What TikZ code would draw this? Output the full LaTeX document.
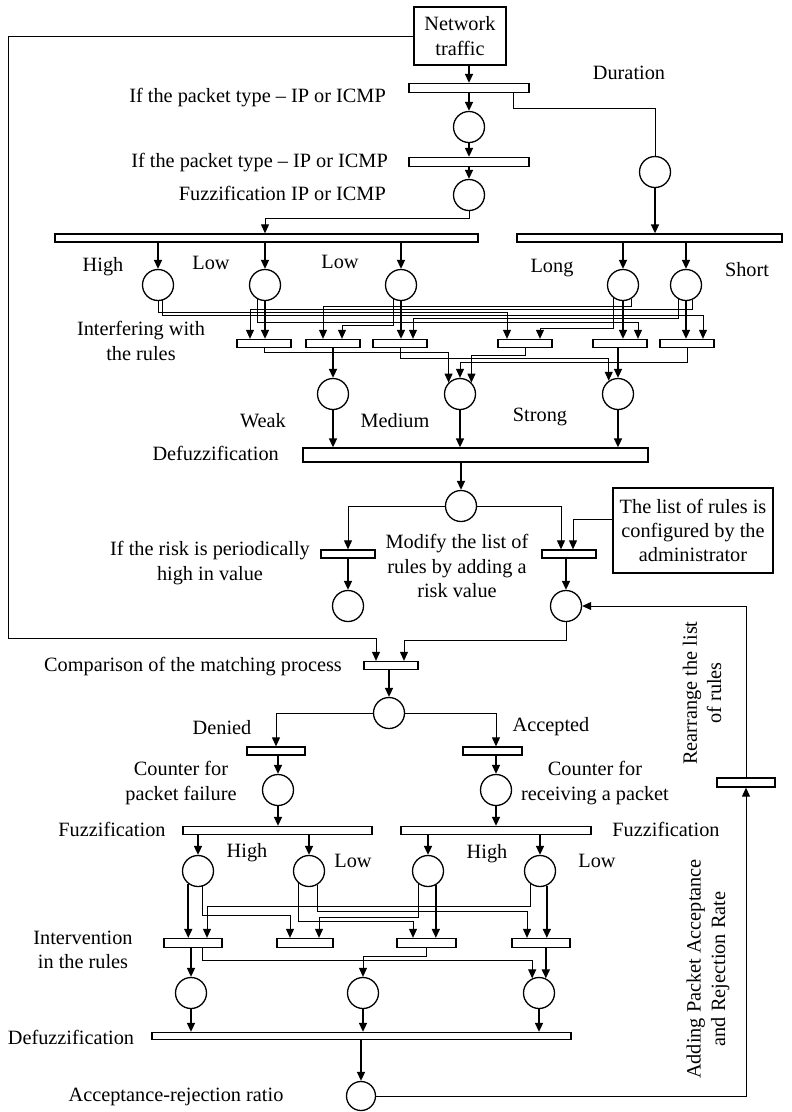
\documentclass[tikz,border=0pt]{standalone}
\usepackage{fontspec}
\setmainfont{Liberation Serif}
\usetikzlibrary{calc,arrows.meta}

\tikzset{
  place/.style={circle, draw, line width=1.3pt, minimum size=31pt, inner sep=0pt},
  trans/.style={rectangle, draw, line width=1.3pt, minimum height=8pt, inner sep=0pt},
  infobox/.style={rectangle, draw, line width=1.3pt, align=center, inner sep=3pt},
  lbl/.style={align=center, inner sep=0pt},
  arc/.style={-{Triangle[length=9pt,width=8pt]}, line width=1.6pt},
  wire/.style={-{Triangle[length=9pt,width=8pt]}, line width=1pt},
  plain/.style={line width=1pt},
}

\begin{document}
\begin{tikzpicture}[x=1pt,y=1pt,yscale=-1,font=\fontsize{20.3}{24.4}\selectfont]
\useasboundingbox (0,0) rectangle (792,1112);

%Input: packet type and duration
\node[infobox, minimum width=92pt, minimum height=58pt] (traffic) at (460,36) {Network\\traffic};
\node[trans, minimum width=120pt, minimum height=9pt] (t1) at (469,88) {};
\node[place] (p1) at (469,127) {};
\node[trans, minimum width=120pt, minimum height=9pt] (t2) at (469,162) {};
\node[place] (p2) at (469,195) {};
\node[place] (pdur) at (655,172) {};
\coordinate (loop) at (8,638);

%Fuzzification bars and fuzzy sets
\node[trans, minimum width=423pt] (b1) at (266.5,238) {};
\node[trans, minimum width=265pt] (b2) at (649.5,238) {};
\node[place] (high) at (158,285) {};
\node[place] (lowa) at (265,285) {};
\node[place] (lowb) at (401,285) {};
\node[place] (long) at (623,285) {};
\node[place] (short) at (686,285) {};

%Rules
\foreach \n/\x in {s1/264,s2/333,s3/400,s4/525,s5/620,s6/687}
  \node[trans, minimum width=54pt] (\n) at (\x,343.5) {};
\node[place] (weak) at (333,394) {};
\node[place] (medium) at (460,394) {};
\node[place] (strong) at (618,394) {};

%Risk part
\node[trans, minimum width=345pt, minimum height=14pt] (dfz) at (475.5,455) {};
\node[place] (risk) at (461,506) {};
\node[trans, minimum width=54pt] (tl) at (348,554) {};
\node[trans, minimum width=54pt] (tr) at (569,554) {};
\node[place] (phigh) at (348,606) {};
\node[place] (plist) at (566,606) {};
\node[infobox, minimum width=160pt, minimum height=85pt] (admin) at (693,530.5) {The list of rules is\\configured by the\\administrator};

%Matching part
\node[trans, minimum width=54pt] (cmp) at (391,665.5) {};
\node[place] (dec) at (389,713) {};
\node[trans, minimum width=58pt] (tden) at (276,751) {};
\node[trans, minimum width=59pt] (tacc) at (492.5,751) {};
\node[place] (cfail) at (278,790) {};
\node[place] (crecv) at (496,790) {};
\node[trans, minimum width=189pt] (ffail) at (277.5,830.5) {};
\node[trans, minimum width=190pt] (facc) at (496,830.5) {};
\node[place] (fh) at (198,871) {};
\node[place] (fl) at (309,871) {};
\node[place] (ah) at (428,871) {};
\node[place] (al) at (540,871) {};
\foreach \n/\x/\w in {r1/193/58,r2/305/56,r3/426.5/59,r4/541/58}
  \node[trans, minimum width=\w pt, minimum height=9pt] (\n) at (\x,943) {};
\node[place] (o1) at (191,993) {};
\node[place] (o2) at (363,993) {};
\node[place] (o3) at (539,993) {};
\node[trans, minimum width=419pt, minimum height=7pt] (dfz2) at (361.5,1036) {};
\node[place, minimum size=29pt] (ratio) at (361,1096) {};
\node[trans, minimum width=58pt, minimum height=9pt] (trr) at (746,782.5) {};

%Labels
\node[lbl] (ldur) at (629,73) {Duration};
\node[lbl, anchor=east] (ltype1) at (386,98) {If the packet type -- IP or ICMP};
\node[lbl, anchor=east] (ltype2) at (388,163) {If the packet type -- IP or ICMP};
\node[lbl, anchor=east] (lfuzz) at (386,193) {Fuzzification IP or ICMP};
\node[lbl] (lhigh) at (103,267) {High};
\node[lbl] (llowa) at (211,263) {Low};
\node[lbl] (llowb) at (340,262) {Low};
\node[lbl] (llong) at (552,268) {Long};
\node[lbl] (lshort) at (747,270) {Short};
\node[lbl] (linter) at (141,341) {Interfering with\\the rules};
\node[lbl] (lweak) at (263,421) {Weak};
\node[lbl] (lmedium) at (395,421) {Medium};
\node[lbl] (lstrong) at (540,417) {Strong};
\node[lbl, anchor=east] (ldfz) at (279,453) {Defuzzification};
\node[lbl] (lrisk) at (210,563) {If the risk is periodically\\high in value};
\node[lbl] (lmodify) at (457,566) {Modify the list of\\rules by adding a\\risk value};
\node[lbl, anchor=east] (lcmp) at (342,667) {Comparison of the matching process};
\node[lbl] (lden) at (222,728) {Denied};
\node[lbl] (lacc) at (551,727) {Accepted};
\node[lbl] (lcfail) at (181,783) {Counter for\\packet failure};
\node[lbl] (lcrecv) at (595,783) {Counter for\\receiving a packet};
\node[lbl] (lffail) at (112,829) {Fuzzification};
\node[lbl] (lfacc) at (666,829) {Fuzzification};
\node[lbl] (lfh) at (247,853) {High};
\node[lbl] (lfl) at (353,861) {Low};
\node[lbl] (lah) at (487,854) {High};
\node[lbl] (lal) at (597,861) {Low};
\node[lbl] (lint) at (83,950) {Intervention\\in the rules};
\node[lbl] (ldfz2) at (71,1037) {Defuzzification};
\node[lbl] (lratio) at (176,1097) {Acceptance-rejection ratio};
\node[lbl, rotate=90] (lrearr) at (702,693) {Rearrange the list\\of rules};
\node[lbl, rotate=90] (ladd) at (708,969) {Adding Packet Acceptance\\and Rejection Rate};

%Top arcs
\draw[arc] (traffic.south -| t1) -- (t1.north);
\draw[plain] ($(t1.south)+(44,0)$) -- ++(0,15) -| (pdur.north);
\draw[arc] (t1) -- (p1);
\draw[arc] (p1) -- (t2);
\draw[arc] (t2) -- (p2);
\draw[wire] (p2.south) -- ++(0,7) -| (b1.north -| lowa);
\draw[arc] (pdur) -- (pdur |- b2.north);
\draw[wire] (traffic.west) -| (loop) -| ($(cmp.north)+(-15,0)$);
\foreach \p in {high,lowa,lowb} \draw[arc] (b1.south -| \p) -- (\p);
\foreach \p in {long,short} \draw[arc] (b2.south -| \p) -- (\p);

%Interfering with the rules
\draw[arc] (lowa.south) -- (lowa.south |- s1.north);
\draw[arc] (lowb.south) -- (lowb.south |- s3.north);
\draw[arc] (long.south) -- (long.south |- s5.north);
\draw[arc] (short.south) -- (short.south |- s6.north);
\draw[wire] (long.-57) -- (long.-57 |- 0,306) -| ($(s2.north)+(-10,0)$);
\draw[wire] (short.-65) -- (short.-65 |- 0,309) -| ($(s1.north)+(-14,0)$);
\draw[wire] (high.south) -- (high.south |- 0,312) -| ($(s4.north)+(-18,0)$);
\draw[wire] (high.-72) -- (high.-72 |- 0,315) -| ($(s6.north)+(16,0)$);
\draw[wire] (short.-119) -- (short.-119 |- 0,318) -| ($(s3.north)+(13,0)$);
\draw[wire] (lowa.-119) -- (lowa.-119 |- 0,322) -| ($(s5.north)+(18,0)$);
\draw[wire] (lowb.-119) -- (lowb.-119 |- 0,325) -| ($(s2.north)+(9,0)$);
\draw[wire] (long.-127) -- (long.-127 |- 0,328) -| ($(s4.north)+(15,0)$);

%Rule outputs
\draw[wire] (s1.south) -- (s1.south |- 0,352) -| (medium.135);
\draw[arc] (s2) -- (weak);
\draw[wire] (s3.south) -- (s3.south |- 0,358) -| (strong.125);
\draw[wire] (s4.south) -- (s4.south |- 0,355) -| (medium.45);
\draw[arc] (s5.south -| strong) -- (strong);
\draw[wire] (s6.south) -- (s6.south |- 0,362) -| (medium.north);
\foreach \p in {weak,medium,strong} \draw[arc] (\p) -- (\p |- dfz.north);
\draw[arc] (dfz.south -| risk) -- (risk);

%Risk
\draw[wire] (risk.west) -| (tl.north);
\draw[wire] (risk.east) -| ($(tr.north)+(-8,0)$);
\draw[wire] ($(admin.west)+(0,-11)$) -| ($(tr.north)+(4,0)$);
\draw[arc] (tl) -- (phigh);
\draw[arc] (tr.south -| plist) -- (plist);
\draw[wire] (plist.south) -- (plist.south |- 0,640) -| ($(cmp.north)+(13,0)$);

%Comparison
\draw[arc] (cmp.south -| dec) -- (dec);
\draw[wire] (dec.west) -| (tden.north);
\draw[wire] (dec.east) -| (tacc.north -| crecv);
\draw[arc] (tden.south -| cfail) -- (cfail);
\draw[arc] (tacc.south -| crecv) -- (crecv);
\draw[arc] (cfail) -- (cfail |- ffail.north);
\draw[arc] (crecv) -- (crecv |- facc.north);
\foreach \p in {fh,fl} \draw[arc] (ffail.south -| \p) -- (\p);
\foreach \p in {ah,al} \draw[arc] (facc.south -| \p) -- (\p);

%Intervention in the rules
\draw[arc] (fh.-127) -- (fh.-127 |- r1.north);
\draw[arc] (ah.-61) -- (ah.-61 |- r3.north);
\draw[arc] (al.-65) -- (al.-65 |- r4.north);
\draw[wire] (al.-127) -- (al.-127 |- 0,906) -| ($(r1.north)+(14,0)$);
\draw[wire] (fl.-57) -- (fl.-57 |- 0,911) -| ($(r4.north)+(-14,0)$);
\draw[wire] (fh.-72) -- (fh.-72 |- 0,915) -| ($(r2.north)+(-15,0)$);
\draw[wire] (ah.-127) -- (ah.-127 |- 0,917) -| ($(r2.north)+(14,0)$);
\draw[wire] (fl.-132) -- (fl.-132 |- 0,921) -| ($(r3.north)+(-13.5,0)$);
\draw[arc] (r1.south -| o1) -- (o1);
\draw[wire] ($(r1.south)+(9,0)$) -- ++(0,12.5) -| (o3.115);
\draw[wire] (r3.south) -- ++(0,8.5) -| (o2.north);
\draw[arc] (r4.south -| o3.65) -- (o3.65);
\foreach \p in {o1,o2,o3} \draw[arc] (\p) -- (\p |- dfz2.north);
\draw[arc] (dfz2.south -| ratio) -- (ratio);
\draw[wire] (ratio.east) -| (trr.south);
\draw[wire] (trr.north) |- (plist.east);
\end{tikzpicture}
\end{document}
